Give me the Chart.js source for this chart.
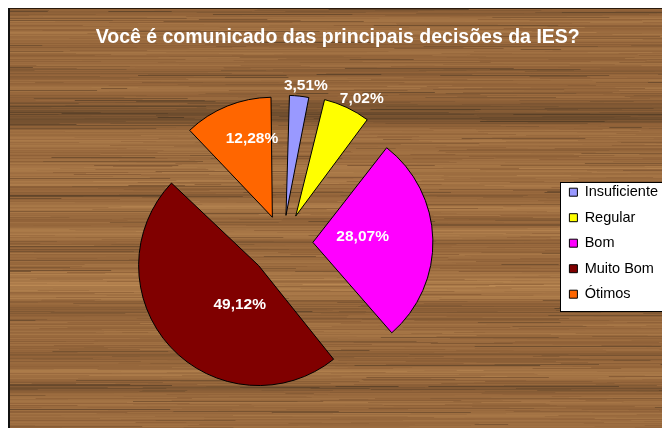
<!DOCTYPE html>
<html>
<head>
<meta charset="utf-8">
<title>Você é comunicado das principais decisões da IES?</title>
<script src="https://cdn.jsdelivr.net/npm/chart.js@4.4.1/dist/chart.umd.min.js"></script>
<style>
    html, body { margin: 0; padding: 0; background: #fff; overflow: hidden; }
    #wrap { position: relative; width: 668px; height: 428px; }
</style>
</head>
<body>
<div id="wrap"><canvas id="pieChart" width="668" height="428"></canvas></div>
<script>
// dados da pesquisa (respostas)
const categories = ['Insuficiente', 'Regular', 'Bom', 'Muito Bom', 'Ótimos'];
const responses = [2, 4, 16, 28, 7];
const sliceColors = ['#9999FF', '#FFFF00', '#FF00FF', '#800000', '#FF6600'];

// estilo: deslocamento das fatias e posição dos rótulos
const PIE_RADIUS = 120;
const explodePx = [28, 30, 30, 33, 28];
const labelDist = [159, 165, 80, 75, 109];
const labelShiftDeg = [2, 3.3, -3.1, -12.2, 5.6];

const FONT = '"Liberation Sans", Arial, sans-serif';
const total = responses.reduce((a, b) => a + b, 0);

// o ArcElement translada offset/4 e aumenta o raio em (offset/4)*fix
function sliceFix(i) {
    const circ = responses[i] / total * Math.PI * 2;
    return 1 - Math.sin(Math.min(Math.PI, circ));
}

function paintWood(ctx, x0, y0, x1, y1) {
    let seed = 4242;
    const rand = () => { seed = (seed * 16807) % 2147483647; return seed / 2147483647; };
    const dark = [86, 62, 38], mid = [146, 99, 57], light = [188, 138, 84];
    const mix = v => {
        v = Math.max(0, Math.min(1, v));
        const a = v < 0.5 ? dark : mid, b = v < 0.5 ? mid : light;
        const t = v < 0.5 ? v * 2 : (v - 0.5) * 2;
        return 'rgb(' + a.map((c, k) => Math.round(c + (b[k] - c) * t)).join(',') + ')';
    };
    ctx.save();
    ctx.beginPath();
    ctx.rect(x0, y0, x1 - x0, y1 - y0);
    ctx.clip();
    ctx.fillStyle = mix(0.55);
    ctx.fillRect(x0, y0, x1 - x0, y1 - y0);
    ctx.filter = 'blur(0.7px)';
    let drift = 0.55, vel = 0;
    for (let y = y0 - 2; y < y1 + 2; y++) {
        vel = vel * 0.55 + (rand() - 0.5) * 0.13;
        drift += vel;
        drift = 0.56 + (drift - 0.56) * 0.86;
        let x = x0 - 4;
        while (x < x1) {
            const len = 25 + rand() * 180;
            let v = drift + (rand() - 0.5) * 0.22;
            if (rand() < 0.08) v -= 0.25;
            ctx.fillStyle = mix(v);
            ctx.fillRect(x, y, len + 1, 1.2);
            x += len;
        }
    }
    ctx.restore();
}

const backdrop = {
    id: 'backdrop',
    beforeDraw(chart) {
        const { ctx, width, height } = chart;
        ctx.save();
        ctx.fillStyle = '#fff';
        ctx.fillRect(0, 0, width, height);
        paintWood(ctx, 8, 8, width, height);
        ctx.fillStyle = '#2a1a0c';
        ctx.fillRect(8, 8, width - 8, 1);
        ctx.fillStyle = '#111';
        ctx.fillRect(8, 8, 2, height - 8);

        // caixa branca da legenda
        const lg = chart.legend;
        const hb = lg.legendHitBoxes;
        if (hb && hb.length) {
            const top = Math.round(hb[0].top - 3) + 0.5;
            const last = hb[hb.length - 1];
            const bottom = Math.round(last.top + last.height + 10) + 0.5;
            const left = Math.round(lg.left + 2) + 0.5;
            ctx.fillStyle = '#fff';
            ctx.fillRect(left, top, width - left + 5, bottom - top);
            ctx.strokeStyle = '#000';
            ctx.lineWidth = 1;
            ctx.strokeRect(left, top, width - left + 5, bottom - top);
        }
        ctx.restore();
    }
};

// mantém o raio igual em todas as fatias deslocadas
const equalRadius = {
    id: 'equalRadius',
    afterDatasetsUpdate(chart) {
        chart.getDatasetMeta(0).data.forEach((arc, i) => {
            arc.outerRadius = PIE_RADIUS - explodePx[i] * sliceFix(i);
        });
    }
};

const percentLabels = {
    id: 'percentLabels',
    afterDatasetsDraw(chart) {
        const { ctx } = chart;
        const meta = chart.getDatasetMeta(0);
        ctx.save();
        ctx.fillStyle = '#fff';
        ctx.font = 'bold 15.5px ' + FONT;
        ctx.textAlign = 'center';
        ctx.textBaseline = 'middle';
        meta.data.forEach((arc, i) => {
            const a = (arc.startAngle + arc.endAngle) / 2 + labelShiftDeg[i] * Math.PI / 180;
            const pct = (responses[i] / total * 100).toFixed(2).replace('.', ',') + '%';
            ctx.fillText(pct, arc.x + Math.cos(a) * labelDist[i], arc.y + Math.sin(a) * labelDist[i]);
        });
        ctx.restore();
    }
};

const ctx = document.getElementById('pieChart').getContext('2d');
new Chart(ctx, {
    type: 'pie',
    data: {
        labels: categories,
        datasets: [{
            data: responses,
            backgroundColor: sliceColors,
            borderColor: '#000',
            borderWidth: 1,
            offset: c => explodePx[c.dataIndex] * 4
        }]
    },
    options: {
        responsive: false,
        animation: false,
        radius: PIE_RADIUS,
        layout: { padding: { left: 7.4, right: 0, top: 0, bottom: 0 } },
        events: [],
        plugins: {
            title: {
                display: true,
                text: 'Você é comunicado das principais decisões da IES?',
                color: '#fff',
                font: { family: FONT, size: 19.5, weight: 'bold', lineHeight: 1.2 },
                padding: { top: 26.3, bottom: 8.7 }
            },
            legend: {
                position: 'right',
                fullSize: false,
                labels: {
                    boxWidth: 8,
                    boxHeight: 8,
                    padding: 11,
                    color: '#000',
                    font: { family: FONT, size: 14.5 }
                }
            },
            tooltip: { enabled: false }
        }
    },
    plugins: [backdrop, equalRadius, percentLabels]
});
</script>
</body>
</html>
